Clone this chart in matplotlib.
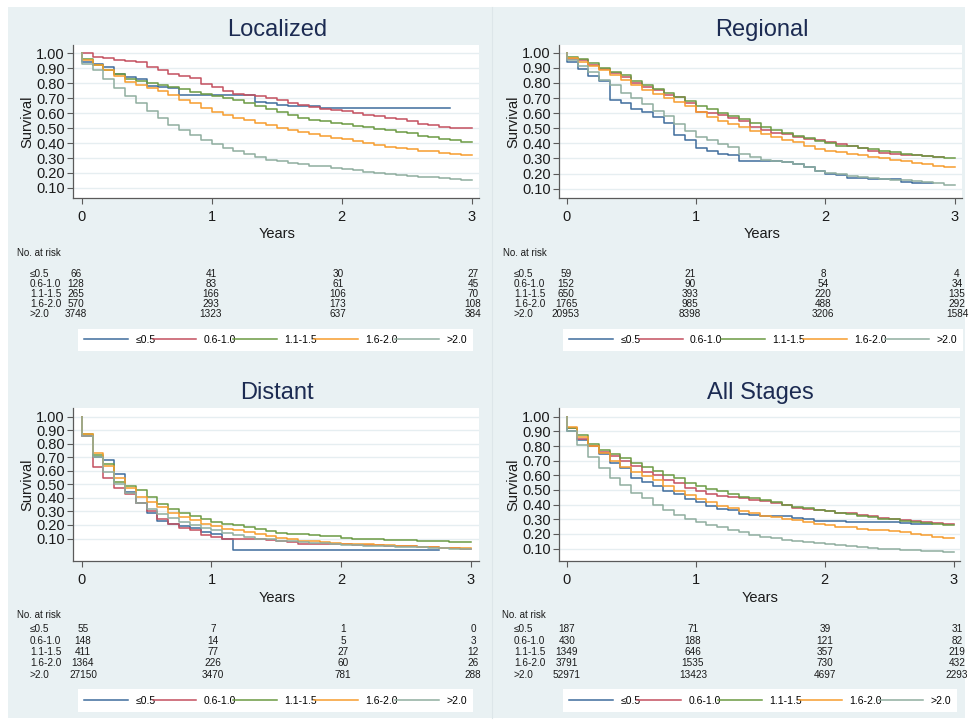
import numpy as np
import matplotlib.pyplot as plt
from matplotlib.patches import Rectangle
from matplotlib.lines import Line2D

plt.rcParams['font.family'] = ['Liberation Sans', 'DejaVu Sans']

groups = ['≤0.5', '0.6-1.0', '1.1-1.5', '1.6-2.0', '>2.0']
colors = ['#3f6c9c', '#c4505f', '#6b9a43', '#f69d2e', '#8fae9f']

# Kaplan-Meier survival, one value per month (step starts)
# Localized
loc_le05 = [0.94, 0.93, 0.91, 0.86, 0.84, 0.83, 0.78, 0.775, 0.77, 0.72, 0.72, 0.72,
            0.72, 0.72, 0.72, 0.72, 0.675, 0.67, 0.655, 0.65, 0.65, 0.65, 0.635, 0.635,
            0.635, 0.635, 0.635, 0.635, 0.635, 0.635, 0.635, 0.635, 0.635, 0.635]
loc_06_10 = [1.00, 0.975, 0.97, 0.955, 0.945, 0.94, 0.91, 0.89, 0.86, 0.845, 0.835, 0.795,
             0.775, 0.745, 0.725, 0.72, 0.715, 0.70, 0.685, 0.67, 0.655, 0.64, 0.63, 0.62,
             0.615, 0.60, 0.59, 0.58, 0.57, 0.56, 0.55, 0.53, 0.52, 0.51, 0.50, 0.50]
loc_11_15 = [0.96, 0.92, 0.89, 0.86, 0.83, 0.815, 0.80, 0.79, 0.775, 0.76, 0.74, 0.725,
             0.715, 0.70, 0.685, 0.665, 0.645, 0.625, 0.605, 0.585, 0.57, 0.555, 0.545, 0.535,
             0.525, 0.515, 0.505, 0.495, 0.485, 0.475, 0.465, 0.45, 0.44, 0.43, 0.42, 0.41]
loc_16_20 = [0.955, 0.92, 0.89, 0.85, 0.81, 0.79, 0.77, 0.745, 0.72, 0.69, 0.665, 0.635,
             0.61, 0.59, 0.57, 0.555, 0.535, 0.52, 0.50, 0.49, 0.475, 0.46, 0.445, 0.435,
             0.425, 0.415, 0.40, 0.39, 0.375, 0.365, 0.36, 0.35, 0.345, 0.335, 0.33, 0.32]
loc_gt20 = [0.93, 0.885, 0.83, 0.77, 0.715, 0.665, 0.615, 0.565, 0.52, 0.485, 0.455, 0.42,
            0.395, 0.37, 0.345, 0.325, 0.305, 0.29, 0.28, 0.27, 0.26, 0.25, 0.245, 0.235,
            0.23, 0.22, 0.21, 0.20, 0.195, 0.185, 0.18, 0.175, 0.17, 0.165, 0.16, 0.155]

# Regional
reg_le05 = [0.94, 0.895, 0.845, 0.81, 0.685, 0.665, 0.625, 0.605, 0.575, 0.535, 0.455, 0.42,
            0.37, 0.35, 0.33, 0.32, 0.285, 0.28, 0.28, 0.28, 0.275, 0.265, 0.24, 0.22,
            0.195, 0.19, 0.17, 0.17, 0.165, 0.165, 0.165, 0.145, 0.14, 0.14]
reg_06_10 = [0.96, 0.95, 0.92, 0.895, 0.865, 0.84, 0.80, 0.77, 0.75, 0.72, 0.705, 0.665,
             0.61, 0.60, 0.585, 0.57, 0.55, 0.51, 0.49, 0.47, 0.46, 0.44, 0.43, 0.42,
             0.41, 0.395, 0.38, 0.37, 0.35, 0.335, 0.33, 0.325, 0.32, 0.315, 0.31]
reg_11_15 = [0.97, 0.955, 0.93, 0.90, 0.875, 0.85, 0.815, 0.785, 0.76, 0.73, 0.71, 0.68,
             0.65, 0.625, 0.60, 0.58, 0.56, 0.535, 0.51, 0.485, 0.47, 0.45, 0.435, 0.415,
             0.40, 0.385, 0.38, 0.37, 0.36, 0.35, 0.34, 0.33, 0.325, 0.315, 0.31, 0.305]
reg_16_20 = [0.965, 0.94, 0.91, 0.885, 0.855, 0.82, 0.785, 0.75, 0.725, 0.70, 0.675, 0.645,
             0.61, 0.575, 0.55, 0.525, 0.505, 0.48, 0.46, 0.44, 0.425, 0.41, 0.38, 0.365,
             0.35, 0.34, 0.33, 0.32, 0.31, 0.30, 0.29, 0.28, 0.27, 0.26, 0.25, 0.24]
reg_gt20 = [0.95, 0.915, 0.875, 0.82, 0.785, 0.73, 0.70, 0.66, 0.615, 0.58, 0.53, 0.48,
            0.445, 0.42, 0.395, 0.375, 0.33, 0.31, 0.29, 0.28, 0.275, 0.26, 0.24, 0.22,
            0.205, 0.195, 0.185, 0.175, 0.17, 0.165, 0.16, 0.155, 0.15, 0.145, 0.135, 0.125]

# Distant
dis_le05 = [0.86, 0.70, 0.68, 0.575, 0.44, 0.36, 0.29, 0.23, 0.21, 0.19, 0.18, 0.15,
            0.135, 0.10, 0.015, 0.015, 0.015, 0.015, 0.015, 0.015, 0.015, 0.015, 0.015, 0.015,
            0.015, 0.015, 0.015, 0.015, 0.015, 0.015, 0.015, 0.015, 0.015]
dis_06_10 = [0.86, 0.63, 0.545, 0.475, 0.43, 0.36, 0.30, 0.245, 0.205, 0.18, 0.16, 0.125,
             0.11, 0.10, 0.10, 0.10, 0.095, 0.09, 0.085, 0.075, 0.056, 0.056, 0.056, 0.056,
             0.056, 0.055, 0.053, 0.05, 0.048, 0.046, 0.043, 0.04, 0.037, 0.033, 0.03, 0.026]
dis_11_15 = [0.87, 0.72, 0.65, 0.52, 0.485, 0.46, 0.41, 0.355, 0.32, 0.29, 0.27, 0.245,
             0.225, 0.21, 0.20, 0.185, 0.17, 0.155, 0.14, 0.135, 0.13, 0.125, 0.12, 0.115,
             0.105, 0.10, 0.097, 0.095, 0.092, 0.09, 0.088, 0.085, 0.082, 0.08, 0.077, 0.073]
dis_16_20 = [0.87, 0.735, 0.635, 0.55, 0.47, 0.41, 0.37, 0.33, 0.29, 0.26, 0.235, 0.21,
             0.19, 0.17, 0.16, 0.15, 0.135, 0.12, 0.105, 0.095, 0.085, 0.08, 0.075, 0.07,
             0.063, 0.06, 0.057, 0.055, 0.05, 0.047, 0.043, 0.04, 0.037, 0.033, 0.03, 0.027]
dis_gt20 = [0.86, 0.705, 0.59, 0.505, 0.435, 0.36, 0.32, 0.28, 0.25, 0.22, 0.20, 0.18,
            0.165, 0.14, 0.125, 0.11, 0.10, 0.095, 0.085, 0.08, 0.075, 0.07, 0.065, 0.058,
            0.052, 0.05, 0.047, 0.045, 0.043, 0.04, 0.038, 0.035, 0.03, 0.027, 0.024, 0.02]

# All Stages
all_le05 = [0.90, 0.84, 0.80, 0.745, 0.685, 0.65, 0.58, 0.555, 0.525, 0.495, 0.47, 0.44,
            0.415, 0.39, 0.37, 0.365, 0.335, 0.33, 0.325, 0.325, 0.32, 0.31, 0.30, 0.29,
            0.285, 0.285, 0.28, 0.28, 0.28, 0.28, 0.28, 0.275, 0.27, 0.27]
all_06_10 = [0.92, 0.845, 0.80, 0.76, 0.73, 0.70, 0.665, 0.625, 0.60, 0.565, 0.545, 0.515,
             0.49, 0.475, 0.46, 0.455, 0.445, 0.435, 0.425, 0.41, 0.395, 0.38, 0.37, 0.365,
             0.355, 0.345, 0.34, 0.33, 0.32, 0.31, 0.305, 0.295, 0.285, 0.28, 0.275, 0.27]
all_11_15 = [0.92, 0.875, 0.815, 0.77, 0.745, 0.72, 0.685, 0.655, 0.63, 0.60, 0.58, 0.55,
             0.525, 0.505, 0.49, 0.47, 0.455, 0.445, 0.43, 0.415, 0.40, 0.385, 0.375, 0.365,
             0.355, 0.345, 0.335, 0.325, 0.315, 0.305, 0.30, 0.29, 0.28, 0.275, 0.27, 0.26]
all_16_20 = [0.93, 0.865, 0.80, 0.755, 0.70, 0.66, 0.625, 0.595, 0.565, 0.53, 0.495, 0.465,
             0.44, 0.42, 0.39, 0.375, 0.355, 0.34, 0.325, 0.315, 0.305, 0.295, 0.28, 0.27,
             0.26, 0.25, 0.245, 0.235, 0.23, 0.225, 0.22, 0.21, 0.20, 0.19, 0.18, 0.173]
all_gt20 = [0.90, 0.81, 0.725, 0.65, 0.585, 0.535, 0.48, 0.445, 0.40, 0.365, 0.33, 0.30,
            0.28, 0.26, 0.245, 0.225, 0.21, 0.195, 0.18, 0.17, 0.16, 0.155, 0.145, 0.14,
            0.13, 0.125, 0.12, 0.11, 0.105, 0.10, 0.097, 0.093, 0.09, 0.085, 0.08, 0.077]

# number at risk at 0, 1, 2, 3 years
loc_risk = [[66, 41, 30, 27], [128, 83, 61, 45], [265, 166, 106, 70],
            [570, 293, 173, 108], [3748, 1323, 637, 384]]
reg_risk = [[59, 21, 8, 4], [152, 90, 54, 34], [650, 393, 220, 135],
            [1765, 985, 488, 292], [20953, 8398, 3206, 1584]]
dis_risk = [[55, 7, 1, 0], [148, 14, 5, 3], [411, 77, 27, 12],
            [1364, 226, 60, 26], [27150, 3470, 781, 288]]
all_risk = [[187, 71, 39, 31], [430, 188, 121, 82], [1349, 646, 357, 219],
            [3791, 1535, 730, 432], [52971, 13423, 4697, 2293]]

W, H = 973, 724
bg = '#e9f1f3'


def fx(px):
    return px / W


def fy(py):
    return 1 - py / H


def km_xy(v):
    t = np.arange(len(v)) / 12
    x = np.concatenate([[0], t, [len(v) / 12]])
    y = np.concatenate([[1.0], v, [v[-1]]])
    return x, y


panels = [
    dict(title='Localized', curves=[loc_le05, loc_06_10, loc_11_15, loc_16_20, loc_gt20],
         risk=loc_risk, box=(73, 479, 45, 198), ylim=(0.033, 1.055), xlim=(-0.067, 3.056),
         title_y=30, cx=277, years_y=234, nar_y=253, rows=[274, 284, 294, 304, 314],
         nar_x=17, lab_x=30, cols=[76, 211, 338, 473], leg=(78, 473, 327, 353)),
    dict(title='Regional', curves=[reg_le05, reg_06_10, reg_11_15, reg_16_20, reg_gt20],
         risk=reg_risk, box=(559, 962, 45, 198), ylim=(0.038, 1.051), xlim=(-0.06, 3.057),
         title_y=30, cx=762, years_y=234, nar_y=253, rows=[274, 284, 294, 304, 314],
         nar_x=503, lab_x=514, cols=[566, 690, 823, 957], leg=(563, 963, 327, 353)),
    dict(title='Distant', curves=[dis_le05, dis_06_10, dis_11_15, dis_16_20, dis_gt20],
         risk=dis_risk, box=(73, 479, 408, 561), ylim=(-0.066, 1.064), xlim=(-0.067, 3.062),
         title_y=393, cx=277, years_y=598, nar_y=615, rows=[629, 640.5, 652, 663.5, 675],
         nar_x=17, lab_x=30, cols=[83, 213, 343, 473], leg=(78, 473, 688, 713)),
    dict(title='All Stages', curves=[all_le05, all_06_10, all_11_15, all_16_20, all_gt20],
         risk=all_risk, box=(559, 960, 408, 561), ylim=(0.015, 1.06), xlim=(-0.06, 3.05),
         title_y=393, cx=760, years_y=598, nar_y=615, rows=[629, 640.5, 652, 663.5, 675],
         nar_x=502, lab_x=514, cols=[567, 693, 825, 957], leg=(563, 957, 688, 713)),
]

fig = plt.figure(figsize=(W / 100, H / 100), dpi=100, facecolor='white')
fig.patches.append(Rectangle((fx(8), fy(718)), fx(965) - fx(8), fy(7) - fy(718),
                             transform=fig.transFigure, facecolor=bg, edgecolor='none', zorder=-10))
fig.add_artist(Line2D([fx(492), fx(492)], [fy(7), fy(718)], color='#dde6e9', lw=0.8))

for p in panels:
    l, r, t, b = p['box']
    ax = fig.add_axes([fx(l), fy(b), fx(r) - fx(l), fy(t) - fy(b)])
    ax.set_facecolor('white')
    for v, c in zip(p['curves'], colors):
        x, y = km_xy(v)
        ax.step(x, y, where='post', color=c, lw=1.1)
    ax.set_xlim(*p['xlim'])
    ax.set_ylim(*p['ylim'])
    ax.set_yticks(np.arange(1, 11) / 10)
    ax.set_yticklabels([f'{v:.2f}' for v in np.arange(1, 11) / 10])
    ax.set_xticks([0, 1, 2, 3])
    ax.yaxis.grid(True, color='#e6eef1', lw=1.0)
    ax.set_axisbelow(True)
    for s in ['top', 'right']:
        ax.spines[s].set_visible(False)
    for s in ['left', 'bottom']:
        ax.spines[s].set_color('#5a5a5a')
        ax.spines[s].set_linewidth(0.9)
    ax.tick_params(axis='both', colors='#5a5a5a', labelcolor='#1a1a1a', labelsize=10.5,
                   length=4.5, width=0.8, pad=1.5)
    ax.tick_params(axis='x', pad=4)
    ax.set_ylabel('Survival', fontsize=10.5, color='#1a1a1a', labelpad=1)

    fig.text(fx(p['cx']), fy(p['title_y']), p['title'], ha='center', va='center',
             fontsize=17, color='#1c2b52')
    fig.text(fx(p['cx']), fy(p['years_y']), 'Years', ha='center', va='center',
             fontsize=10.5, color='#1a1a1a')
    fig.text(fx(p['nar_x']), fy(p['nar_y']), 'No. at risk', ha='left', va='center',
             fontsize=7, color='#1a1a1a')
    for g, row, yy in zip(groups, p['risk'], p['rows']):
        fig.text(fx(p['lab_x']), fy(yy), g, ha='left', va='center', fontsize=7.2,
                 color='#1a1a1a')
        for n, xx in zip(row, p['cols']):
            fig.text(fx(xx), fy(yy), str(n), ha='center', va='center', fontsize=7.2,
                     color='#1a1a1a')

    ll, lr, lt, lb = p['leg']
    handles = [Line2D([], [], color=c, lw=1.1) for c in colors]
    leg = ax.legend(handles, groups, loc='center', ncol=5, mode='expand',
                    bbox_to_anchor=(fx(ll), fy(lb), fx(lr) - fx(ll), fy(lt) - fy(lb)),
                    bbox_transform=fig.transFigure, fontsize=7.5, frameon=True,
                    fancybox=False, edgecolor='none', facecolor='white', framealpha=1,
                    handlelength=4.2, handletextpad=0.7, borderaxespad=0, borderpad=0.6)
    leg.get_frame().set_linewidth(0)

fig.savefig('out.png', dpi=100, facecolor='white')
